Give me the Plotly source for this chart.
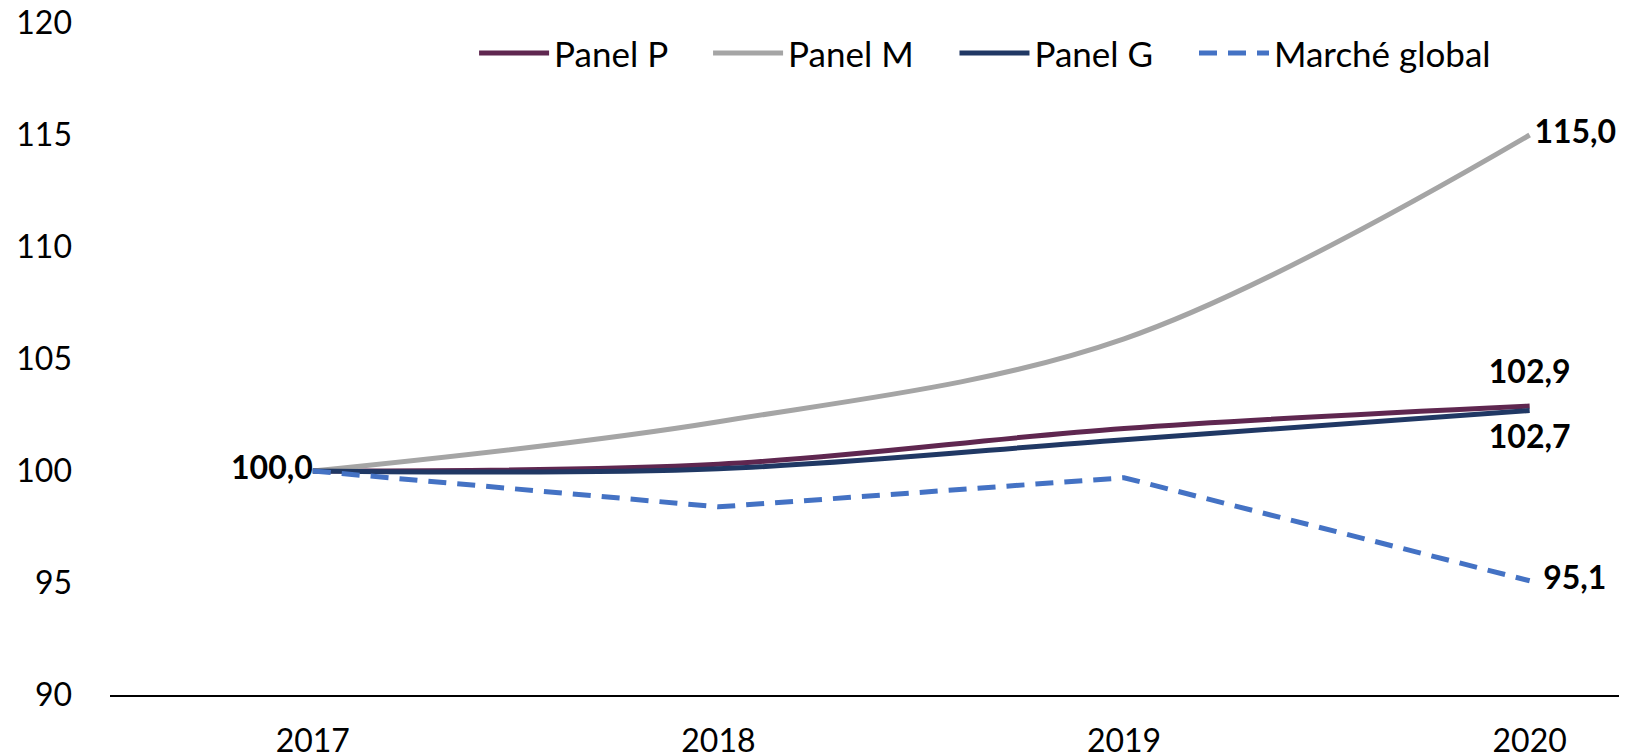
import plotly.graph_objects as go

years = ["2017", "2018", "2019", "2020"]
panel_p = [100.0, 100.3, 101.9, 102.9]
panel_m = [100.0, 102.2, 105.9, 115.0]
panel_g = [100.0, 100.1, 101.4, 102.7]
marche_global = [100.0, 98.4, 99.7, 95.1]

y_ticks = [90, 95, 100, 105, 110, 115, 120]

FONT = "Lato, Open Sans, sans-serif"
PAD = "\u00a0" * 4  # spacing between legend entries

def fmt(v):
    return f"{v:.1f}".replace(".", ",")

fig = go.Figure()
fig.add_trace(go.Scatter(x=years, y=panel_p, name="Panel P" + PAD, mode="lines",
                         line=dict(color="#5F2750", width=5, shape="spline", smoothing=1)))
fig.add_trace(go.Scatter(x=years, y=panel_m, name="Panel M" + PAD, mode="lines",
                         line=dict(color="#A5A5A5", width=5, shape="spline", smoothing=1)))
fig.add_trace(go.Scatter(x=years, y=panel_g, name="Panel G" + PAD, mode="lines",
                         line=dict(color="#203864", width=5, shape="spline", smoothing=1)))
fig.add_trace(go.Scatter(x=years, y=marche_global, name="Marché global", mode="lines",
                         line=dict(color="#4472C4", width=5, dash="18px,11px")))

# data labels: (x, y, position, invisible marker size used as label padding)
label_points = [
    (years[0], panel_p[0], "middle left", 0),
    (years[-1], panel_m[-1], "middle right", 6),
    (years[-1], panel_p[-1], "top center", 22),
    (years[-1], panel_g[-1], "bottom center", 20),
    (years[-1], marche_global[-1], "middle right", 20),
]
fig.add_trace(go.Scatter(
    x=[p[0] for p in label_points], y=[p[1] for p in label_points],
    text=[fmt(p[1]) for p in label_points],
    textposition=[p[2] for p in label_points],
    mode="markers+text", showlegend=False, hoverinfo="skip", cliponaxis=False,
    marker=dict(size=[p[3] for p in label_points], opacity=0, line=dict(width=0)),
    textfont=dict(family=FONT, size=32, color="black", weight="bold"),
))

fig.update_layout(
    width=1619, height=748,
    margin=dict(l=102, r=0, t=15, b=61),
    plot_bgcolor="white", paper_bgcolor="white",
    font=dict(family=FONT, size=32, color="black"),
    showlegend=True,
    legend=dict(orientation="h", x=0.240, xanchor="left", y=0.955, yanchor="middle",
                itemwidth=70,
                font=dict(family=FONT, size=35, color="black"),
                bgcolor="rgba(0,0,0,0)"),
)
fig.update_xaxes(type="category", range=[-0.5, 3.24], showgrid=False, showline=True,
                 linecolor="black", linewidth=2, ticks="", ticklabelstandoff=17,
                 automargin=False,
                 tickfont=dict(family=FONT, size=32, color="black"))
fig.update_yaxes(range=[90, 120], tickvals=y_ticks, showgrid=False, zeroline=False,
                 showline=False, ticks="", ticklabelstandoff=37, automargin=False,
                 ticklabeloverflow="allow",
                 tickfont=dict(family=FONT, size=32, color="black"))

fig.write_html("out.html")
